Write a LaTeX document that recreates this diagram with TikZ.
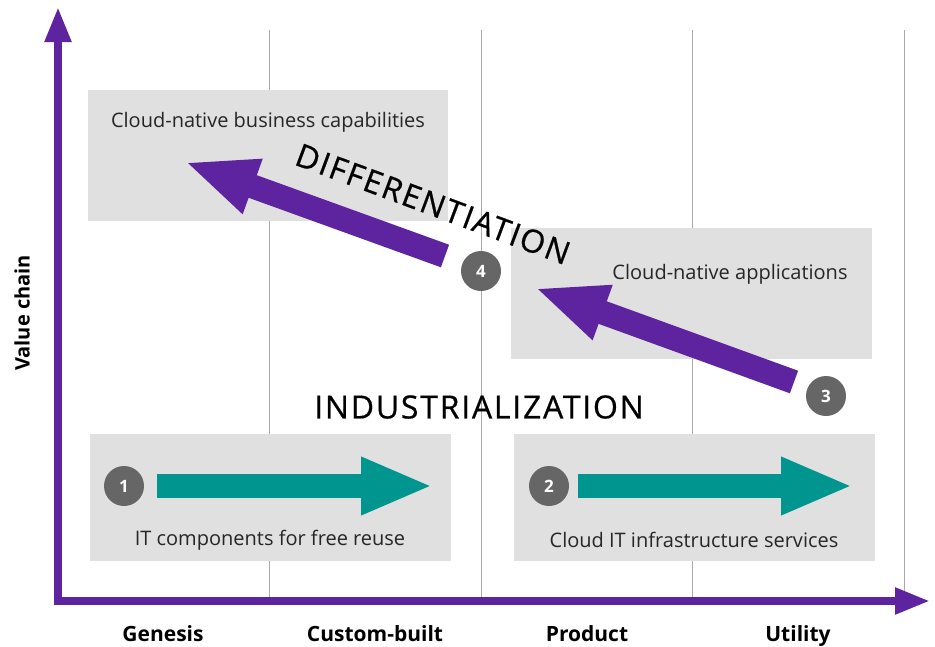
\documentclass[tikz,border=0pt]{standalone}
\usepackage{fontspec}
\setmainfont{Open Sans}
\usetikzlibrary{arrows.meta}
\definecolor{vpurple}{HTML}{5E24A0}
\definecolor{vteal}{HTML}{00968F}
\definecolor{boxgray}{HTML}{E0E0E0}
\definecolor{dotgray}{HTML}{666666}
\definecolor{gridgray}{HTML}{AAAAAA}
\begin{document}
\begin{tikzpicture}[x=1pt,y=-1pt,
    box/.style={fill=boxgray,inner sep=0pt},
    boxtext/.style={font=\fontsize{20}{24}\selectfont,text=black!85},
    stage/.style={anchor=base,font=\fontsize{21}{25}\selectfont\bfseries},
    num/.style={circle,fill=dotgray,minimum size=40pt,inner sep=0pt,text=white,font=\fontsize{17}{20}\selectfont\bfseries},
    axis/.style={draw=vpurple,line width=8pt,line cap=rect,-{Triangle[width=25pt,length=35pt]}},
    bigarrow/.style={line width=24pt,-{Triangle[width=53pt,length=72pt]}},
    headline/.style={font=\fontsize{32}{38}\selectfont\addfontfeatures{LetterSpace=5.5,FakeBold=0.6}}]
    \useasboundingbox (0,0) rectangle (935,646);

    % grid
    \foreach \x in {269,481,692,904}
        \draw[gridgray,line width=1pt] (\x,30) -- (\x,601);

    % boxes
    \node[box,minimum width=360pt,minimum height=131pt] (bizbox) at (268,155.5) {};
    \node[box,minimum width=361pt,minimum height=131pt] (appbox) at (691.5,293.5) {};
    \node[box,minimum width=361pt,minimum height=127pt] (compbox) at (270.5,497.5) {};
    \node[box,minimum width=361pt,minimum height=127pt] (infrabox) at (694.5,497.5) {};

    \node[boxtext] (biztext) at (268,122) {Cloud-native business capabilities};
    \node[boxtext] (apptext) at (730,274) {Cloud-native applications};
    \node[boxtext] (comptext) at (270,540) {IT components for free reuse};
    \node[boxtext] (infratext) at (694,540) {Cloud IT infrastructure services};

    % axes
    \coordinate (o) at (58,601);
    \coordinate (ytop) at (58,7);
    \coordinate (xend) at (930,601);
    \draw[axis] (o) -- (ytop);
    \draw[axis] (o) -- (xend);

    \node[font=\fontsize{20}{24}\selectfont\bfseries,rotate=90] (vchain) at (22,313) {Value chain};
    \node[stage] (genesis) at (163,641) {Genesis};
    \node[stage] (custom) at (375,641) {Custom-built};
    \node[stage] (product) at (587,641) {Product};
    \node[stage] (utility) at (798,641) {Utility};

    % block arrows
    \coordinate (a1) at (157,486);
    \coordinate (b1) at (433,486);
    \coordinate (a2) at (578,486);
    \coordinate (b2) at (853,486);
    \coordinate (a3) at (794,382);
    \coordinate (b3) at (535,288);
    \coordinate (a4) at (445,256);
    \coordinate (b4) at (185,162);
    \draw[bigarrow,vteal] (a1) -- (b1);
    \draw[bigarrow,vteal] (a2) -- (b2);
    \draw[bigarrow,vpurple] (a3) -- (b3);
    \draw[bigarrow,vpurple] (a4) -- (b4);

    \node[num] (n1) at (124,486) {1};
    \node[num] (n2) at (549,486) {2};
    \node[num] (n3) at (826,396) {3};
    \node[num] (n4) at (481,271) {4};

    \node[headline] (indus) at (479,407) {INDUSTRIALIZATION};
    \node[headline,rotate=-20.4] (diff) at (433,204) {DIFFERENTIATION};

\end{tikzpicture}
\end{document}
